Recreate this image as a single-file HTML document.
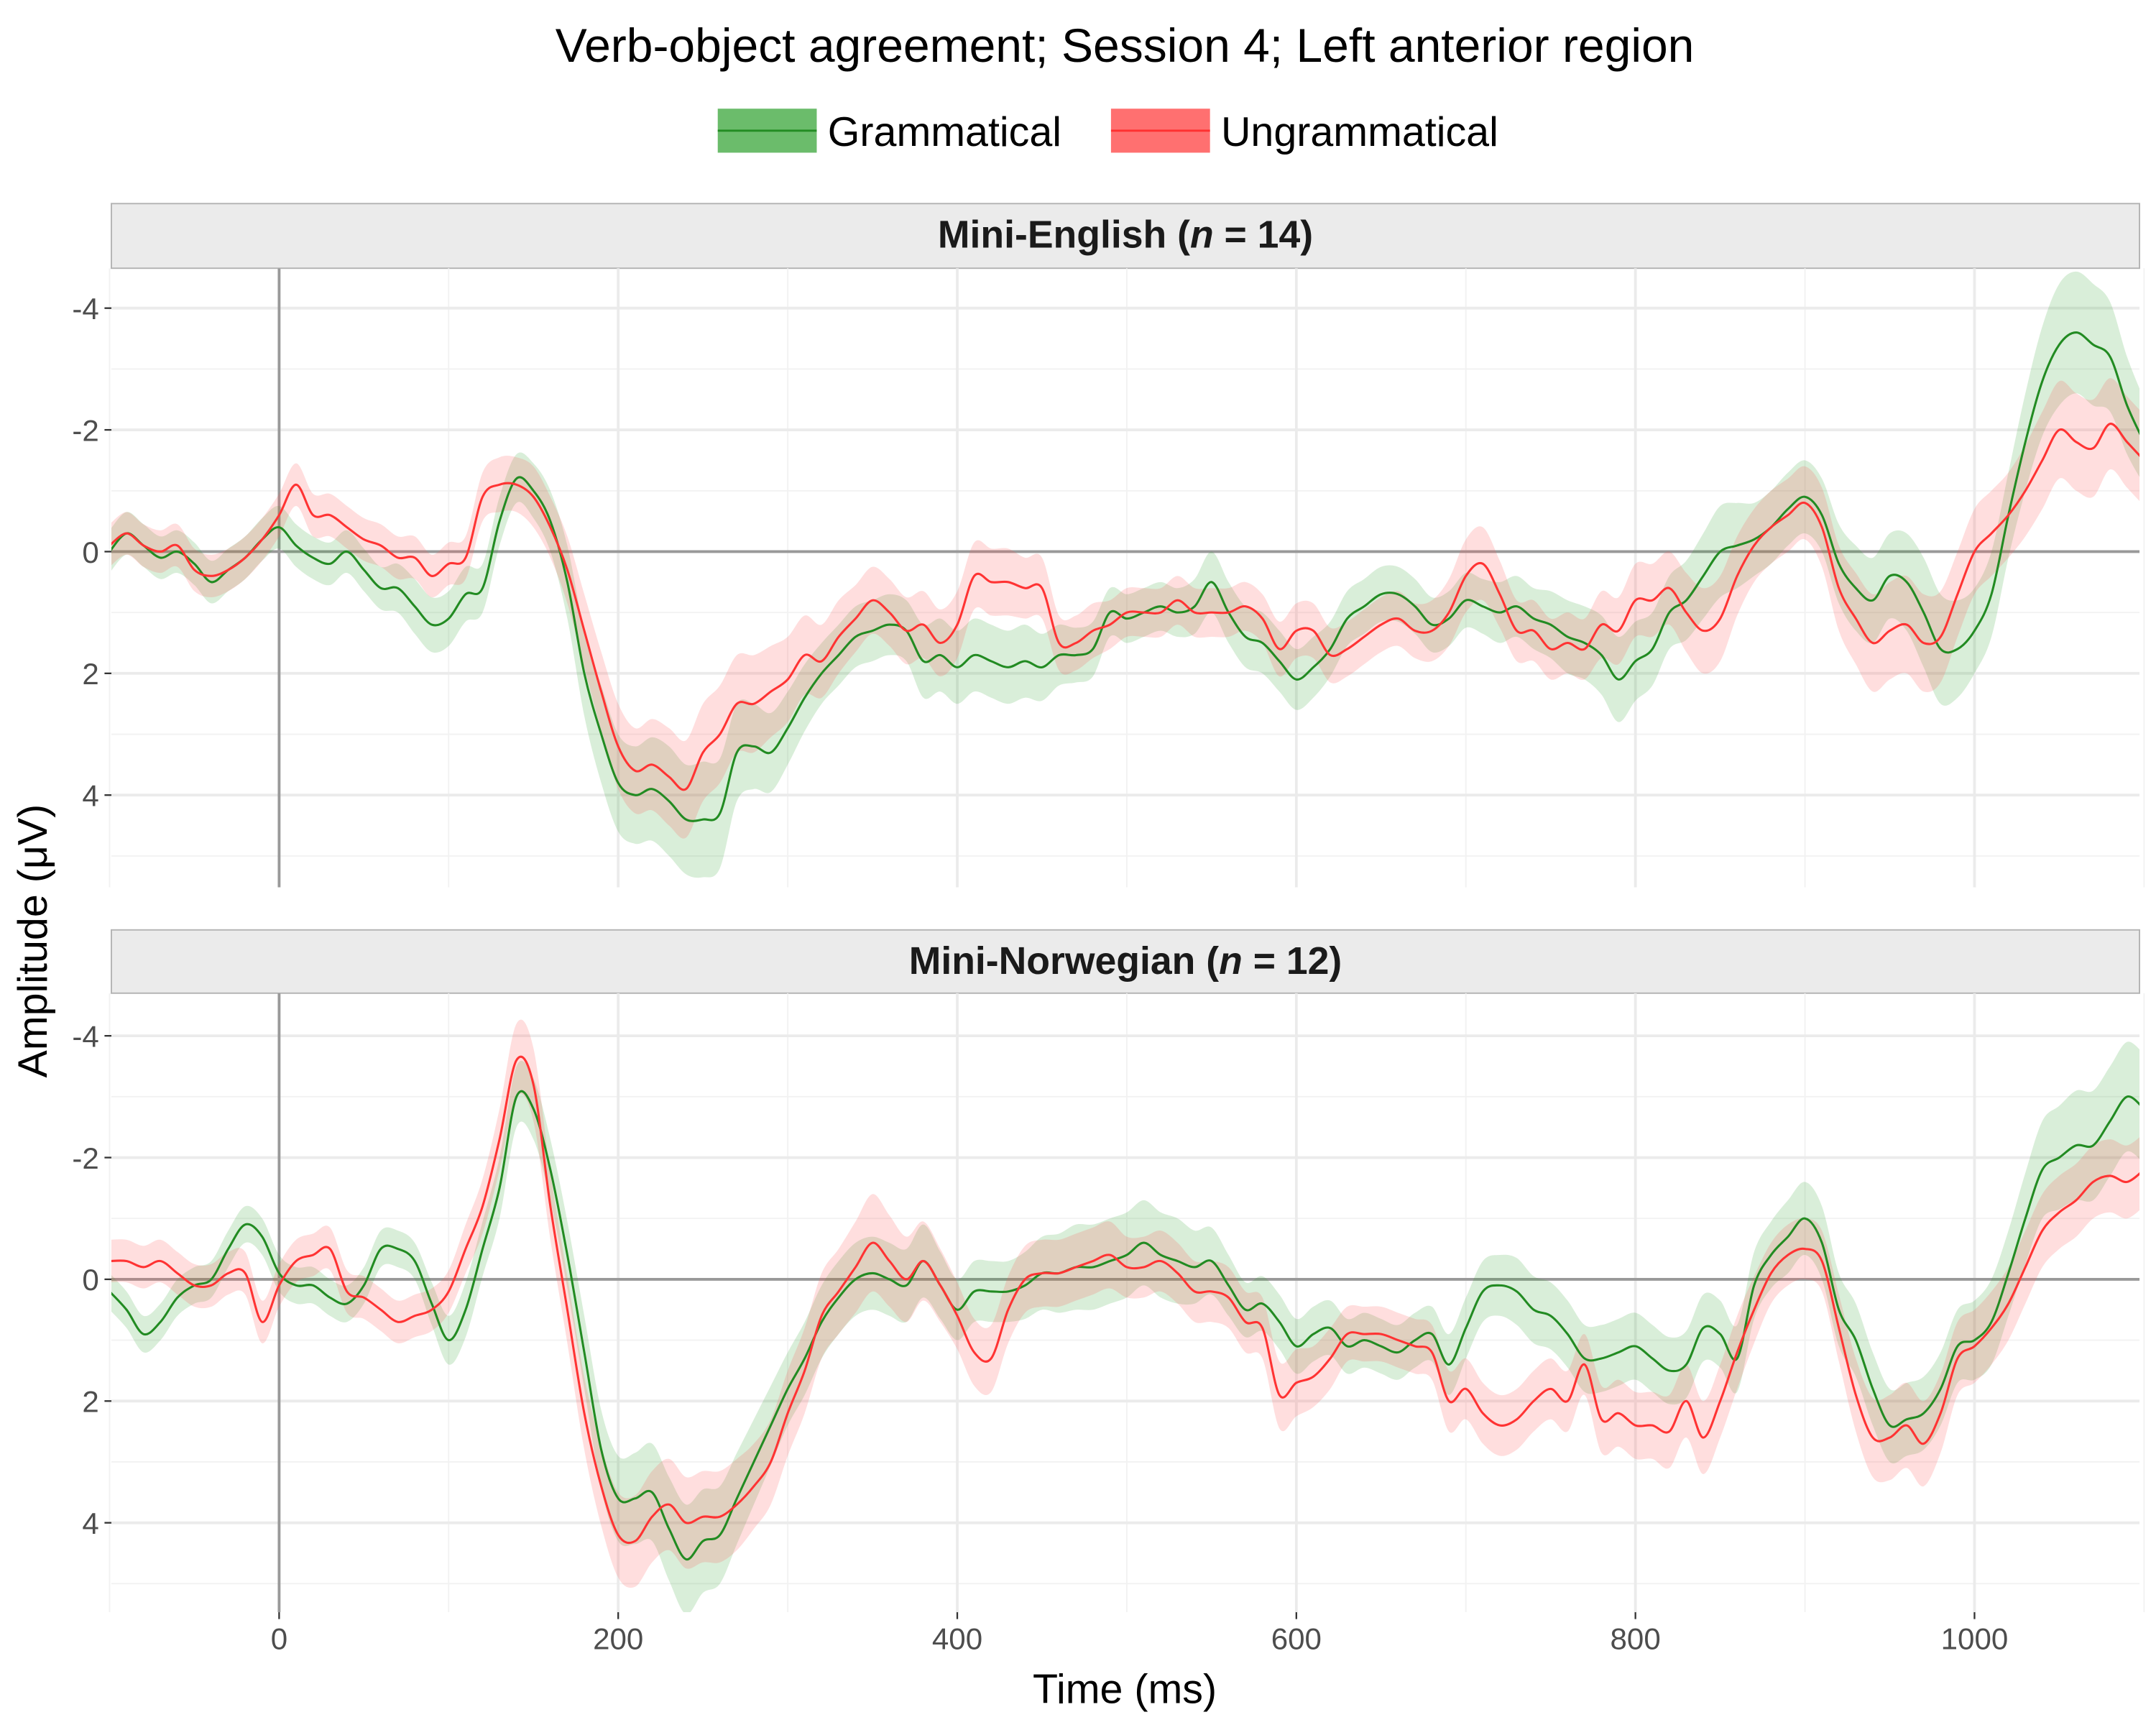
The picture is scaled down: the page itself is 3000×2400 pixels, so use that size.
<!DOCTYPE html>
<html><head><meta charset="utf-8"><style>html,body{margin:0;padding:0;background:#fff}svg{display:block}</style></head>
<body>
<svg id="chart" width="3000" height="2400" viewBox="0 0 1568 1254" preserveAspectRatio="none" xmlns="http://www.w3.org/2000/svg" font-family="Liberation Sans, Arial, sans-serif">
<rect width="1568" height="1254" fill="#fff"/>
<text x="818" y="45" font-size="34.5" text-anchor="middle" fill="#000">Verb-object agreement; Session 4; Left anterior region</text>
<g>
<g><rect x="522" y="79" width="72" height="32" fill="#2ca02c" fill-opacity="0.7"/><line x1="522" y1="95" x2="594" y2="95" stroke="#228b22" stroke-width="1.5"/><text x="602" y="106" font-size="30">Grammatical</text></g>
<g><rect x="808" y="79" width="72" height="32" fill="#ff4040" fill-opacity="0.75"/><line x1="808" y1="95" x2="880" y2="95" stroke="#ff3030" stroke-width="1.5"/><text x="888" y="106" font-size="30">Ungrammatical</text></g>
</g>
<text transform="translate(34,684) rotate(-90)" font-size="30" text-anchor="middle">Amplitude (μV)</text>
<text x="818" y="1238" font-size="30" text-anchor="middle">Time (ms)</text>
<g id="panels"></g>
</svg>
<script>
const times = [];
for (let t = -100; t <= 1100; t += 10) times.push(t);
const xTicks = [0, 200, 400, 600, 800, 1000];
const yTicks = [-4, -2, 0, 2, 4];
const panelTitles = ["Mini-English", "Mini-Norwegian"];
const panelN = [14, 12];
const eng_gram = [0,-0.3,-0.1,0.1,0,0.2,0.5,0.3,0.1,-0.2,-0.4,-0.1,0.1,0.2,0,0.3,0.6,0.6,0.9,1.2,1.1,0.7,0.6,-0.5,-1.2,-1.0,-0.5,0.5,2.0,3.0,3.8,4.0,3.9,4.1,4.4,4.4,4.3,3.3,3.2,3.3,2.9,2.4,2.0,1.7,1.4,1.3,1.2,1.3,1.8,1.7,1.9,1.7,1.8,1.9,1.8,1.9,1.7,1.7,1.6,1.0,1.1,1.0,0.9,1.0,0.9,0.5,1.0,1.4,1.5,1.8,2.1,1.9,1.6,1.1,0.9,0.7,0.7,0.9,1.2,1.1,0.8,0.9,1.0,0.9,1.1,1.2,1.4,1.5,1.7,2.1,1.8,1.6,1.0,0.8,0.4,0,-0.1,-0.2,-0.4,-0.7,-0.9,-0.6,0.2,0.6,0.8,0.4,0.5,1.0,1.6,1.6,1.3,0.7,-0.6,-1.8,-2.8,-3.4,-3.6,-3.4,-3.2,-2.4,-1.8];
const eng_ungram = [-0.1,-0.3,-0.1,0,-0.1,0.3,0.4,0.3,0.1,-0.2,-0.6,-1.1,-0.6,-0.6,-0.4,-0.2,-0.1,0.1,0.1,0.4,0.2,0.1,-0.9,-1.1,-1.1,-0.9,-0.4,0.3,1.3,2.3,3.2,3.6,3.5,3.7,3.9,3.3,3.0,2.5,2.5,2.3,2.1,1.7,1.8,1.4,1.1,0.8,1.0,1.3,1.2,1.5,1.2,0.4,0.5,0.5,0.6,0.6,1.5,1.5,1.3,1.2,1.0,1.0,1.0,0.8,1.0,1.0,1.0,0.9,1.1,1.6,1.3,1.3,1.7,1.6,1.4,1.2,1.1,1.3,1.3,1.0,0.4,0.2,0.7,1.3,1.3,1.6,1.5,1.6,1.2,1.3,0.8,0.8,0.6,1.0,1.3,1.1,0.4,-0.1,-0.4,-0.6,-0.8,-0.4,0.6,1.1,1.5,1.3,1.2,1.5,1.4,0.7,0,-0.3,-0.6,-1.0,-1.5,-2.0,-1.8,-1.7,-2.1,-1.8,-1.5];
const nor_gram = [0.2,0.5,0.9,0.7,0.3,0.1,0,-0.5,-0.9,-0.7,-0.1,0.1,0.1,0.3,0.4,0.1,-0.5,-0.5,-0.3,0.4,1.0,0.5,-0.5,-1.5,-3.0,-2.8,-1.8,-0.4,1.2,2.8,3.6,3.6,3.5,4.1,4.6,4.3,4.2,3.6,3.0,2.4,1.8,1.3,0.7,0.3,0,-0.1,0,0.1,-0.3,0.1,0.5,0.2,0.2,0.2,0.1,-0.1,-0.1,-0.2,-0.2,-0.3,-0.4,-0.6,-0.4,-0.3,-0.2,-0.3,0.1,0.5,0.4,0.7,1.1,0.9,0.8,1.1,1.0,1.1,1.2,1.0,0.9,1.4,0.8,0.2,0.1,0.2,0.5,0.6,0.9,1.3,1.3,1.2,1.1,1.3,1.5,1.4,0.8,0.9,1.3,0.1,-0.4,-0.7,-1.0,-0.6,0.5,1.0,1.8,2.4,2.3,2.2,1.8,1.1,1.0,0.7,-0.1,-1.0,-1.8,-2.0,-2.2,-2.2,-2.6,-3.0,-2.8];
const nor_ungram = [-0.3,-0.3,-0.2,-0.3,-0.1,0.1,0.1,-0.1,-0.1,0.7,0.1,-0.3,-0.4,-0.5,0.2,0.3,0.5,0.7,0.6,0.5,0.2,-0.5,-1.2,-2.3,-3.6,-3.2,-1.2,0.5,2.2,3.4,4.2,4.3,3.9,3.7,4.0,3.9,3.9,3.7,3.4,3.0,2.2,1.5,0.6,0.2,-0.2,-0.6,-0.3,0,-0.3,0.1,0.6,1.2,1.3,0.5,0,-0.1,-0.1,-0.2,-0.3,-0.4,-0.2,-0.2,-0.3,-0.1,0.2,0.2,0.3,0.7,0.8,1.9,1.7,1.6,1.3,0.9,0.9,0.9,1.0,1.1,1.2,2.0,1.8,2.2,2.4,2.3,2.0,1.8,2.0,1.4,2.3,2.2,2.4,2.4,2.5,2.0,2.6,2.0,1.2,0.5,-0.1,-0.4,-0.5,-0.3,0.8,1.9,2.6,2.6,2.4,2.7,2.2,1.3,1.1,0.8,0.4,-0.2,-0.8,-1.1,-1.3,-1.6,-1.7,-1.6,-1.8];
const eng_gram_se = [0.35,0.35,0.35,0.35,0.35,0.35,0.35,0.35,0.35,0.35,0.35,0.35,0.35,0.35,0.35,0.35,0.35,0.4,0.45,0.45,0.45,0.45,0.4,0.4,0.4,0.45,0.5,0.6,0.7,0.8,0.8,0.8,0.85,0.9,0.9,0.95,0.9,0.8,0.7,0.65,0.6,0.55,0.5,0.5,0.5,0.5,0.5,0.5,0.6,0.6,0.6,0.6,0.6,0.6,0.6,0.55,0.5,0.45,0.45,0.4,0.4,0.4,0.4,0.4,0.45,0.5,0.5,0.5,0.5,0.5,0.5,0.5,0.45,0.45,0.45,0.45,0.45,0.45,0.45,0.45,0.45,0.45,0.5,0.5,0.5,0.55,0.6,0.6,0.65,0.7,0.65,0.6,0.6,0.65,0.7,0.75,0.7,0.6,0.6,0.6,0.6,0.6,0.65,0.7,0.7,0.7,0.8,0.9,0.9,0.8,0.7,0.7,0.7,0.8,0.9,1.0,1.0,1.0,0.9,0.8,0.7];
const eng_ungram_se = [0.35,0.35,0.35,0.35,0.35,0.35,0.35,0.35,0.35,0.35,0.35,0.35,0.35,0.35,0.35,0.35,0.35,0.35,0.35,0.35,0.35,0.35,0.4,0.45,0.45,0.5,0.5,0.55,0.6,0.65,0.7,0.7,0.75,0.8,0.8,0.8,0.8,0.8,0.8,0.75,0.7,0.65,0.6,0.6,0.55,0.55,0.55,0.55,0.55,0.55,0.55,0.55,0.55,0.55,0.5,0.5,0.45,0.45,0.45,0.4,0.4,0.4,0.4,0.4,0.4,0.4,0.4,0.4,0.4,0.45,0.45,0.45,0.45,0.45,0.45,0.45,0.45,0.45,0.5,0.55,0.6,0.6,0.55,0.5,0.5,0.5,0.5,0.5,0.55,0.55,0.6,0.6,0.6,0.65,0.7,0.7,0.65,0.6,0.6,0.6,0.6,0.65,0.7,0.75,0.8,0.8,0.8,0.8,0.75,0.7,0.7,0.7,0.7,0.75,0.8,0.8,0.8,0.8,0.75,0.75,0.75];
const nor_gram_se = [0.3,0.3,0.3,0.3,0.3,0.3,0.3,0.3,0.3,0.3,0.3,0.3,0.3,0.3,0.3,0.3,0.3,0.3,0.3,0.35,0.4,0.45,0.45,0.5,0.5,0.5,0.5,0.55,0.6,0.65,0.7,0.75,0.8,0.85,0.9,0.85,0.8,0.75,0.7,0.65,0.6,0.6,0.6,0.6,0.6,0.6,0.6,0.6,0.6,0.55,0.5,0.5,0.5,0.5,0.55,0.6,0.65,0.7,0.7,0.7,0.7,0.7,0.7,0.7,0.6,0.55,0.5,0.45,0.45,0.45,0.45,0.45,0.45,0.45,0.45,0.45,0.45,0.45,0.45,0.5,0.5,0.5,0.5,0.55,0.55,0.55,0.55,0.55,0.55,0.55,0.55,0.55,0.55,0.55,0.55,0.55,0.55,0.55,0.55,0.6,0.6,0.6,0.6,0.6,0.6,0.6,0.6,0.6,0.6,0.6,0.65,0.7,0.7,0.75,0.8,0.85,0.9,0.9,0.9,0.9,0.9];
const nor_ungram_se = [0.35,0.35,0.35,0.35,0.35,0.35,0.35,0.35,0.35,0.35,0.35,0.35,0.35,0.35,0.35,0.35,0.35,0.35,0.35,0.35,0.35,0.4,0.45,0.5,0.6,0.6,0.55,0.55,0.6,0.65,0.7,0.75,0.75,0.75,0.75,0.75,0.75,0.75,0.7,0.7,0.7,0.7,0.7,0.7,0.75,0.8,0.75,0.7,0.65,0.6,0.55,0.55,0.55,0.55,0.55,0.55,0.55,0.55,0.55,0.55,0.5,0.5,0.5,0.5,0.5,0.5,0.5,0.5,0.5,0.55,0.55,0.5,0.5,0.45,0.45,0.45,0.45,0.45,0.45,0.5,0.5,0.5,0.5,0.5,0.5,0.5,0.5,0.5,0.55,0.55,0.55,0.55,0.6,0.6,0.6,0.6,0.6,0.55,0.5,0.5,0.5,0.5,0.55,0.6,0.65,0.7,0.7,0.7,0.65,0.6,0.6,0.6,0.6,0.6,0.6,0.6,0.6,0.6,0.6,0.6,0.6];

const X0 = 81, X1 = 1556;
const xScale = t => 203 + (t) * 1.233;
const panels = [
  {strip: 148, top: 195, bottom: 645, zero: 401, g: eng_gram, u: eng_ungram, gs: eng_gram_se, us: eng_ungram_se},
  {strip: 676, top: 722, bottom: 1172, zero: 930, g: nor_gram, u: nor_ungram, gs: nor_gram_se, us: nor_ungram_se}
];
const NS = "http://www.w3.org/2000/svg";
const root = document.getElementById('panels');
function mk(tag, attrs, parent) {
  const e = document.createElementNS(NS, tag);
  for (const k in attrs) e.setAttribute(k, attrs[k]);
  parent.appendChild(e);
  return e;
}
function smooth(pts) {
  let d = "M" + pts[0][0].toFixed(2) + "," + pts[0][1].toFixed(2);
  for (let i = 0; i < pts.length - 1; i++) {
    const p0 = pts[Math.max(0, i - 1)], p1 = pts[i], p2 = pts[i + 1], p3 = pts[Math.min(pts.length - 1, i + 2)];
    const c1x = p1[0] + (p2[0] - p0[0]) / 6, c1y = p1[1] + (p2[1] - p0[1]) / 6;
    const c2x = p2[0] - (p3[0] - p1[0]) / 6, c2y = p2[1] - (p3[1] - p1[1]) / 6;
    d += " C" + c1x.toFixed(2) + "," + c1y.toFixed(2) + " " + c2x.toFixed(2) + "," + c2y.toFixed(2) + " " + p2[0].toFixed(2) + "," + p2[1].toFixed(2);
  }
  return d;
}
panels.forEach((p, pi) => {
  const yScale = v => p.zero + v * 44.25;
  const g = mk('g', {}, root);
  
  
  const clipId = 'clip' + pi;
  const cp = mk('clipPath', {id: clipId}, g);
  mk('rect', {x: X0, y: p.top, width: X1 - X0, height: p.bottom - p.top}, cp);
  const st = mk('rect', {x: X0, y: p.strip, width: X1 - X0, height: p.top - p.strip, fill: '#ebebeb', stroke: '#b3b3b3', 'stroke-width': 1}, g);
  
  
  const tx = mk('text', {x: (X0 + X1) / 2, y: p.strip + 32, 'font-size': 28, 'font-weight': 'bold', 'text-anchor': 'middle', fill: '#1a1a1a'}, g);
  
  
  tx.textContent = panelTitles[pi] + " (";
  const ts = mk('tspan', {'font-style': 'italic'}, tx); ts.textContent = 'n';
  const ts2 = mk('tspan', {}, tx); ts2.textContent = " = " + panelN[pi] + ")";
  for (let t = -100; t <= 1100; t += 200) {
    mk('line', {x1: xScale(t), x2: xScale(t), y1: p.top, y2: p.bottom, stroke: '#f2f2f2', 'stroke-width': 1}, g);
  }
  for (let v = -5; v <= 5; v += 2) {
    const y = yScale(v);
    if (y >= p.top && y <= p.bottom) mk('line', {x1: X0, x2: X1, y1: y, y2: y, stroke: '#f2f2f2', 'stroke-width': 1}, g);
  }
  xTicks.forEach(t => mk('line', {x1: xScale(t), x2: xScale(t), y1: p.top, y2: p.bottom, stroke: '#ebebeb', 'stroke-width': 2}, g));
  yTicks.forEach(v => {
    mk('line', {x1: X0, x2: X1, y1: yScale(v), y2: yScale(v), stroke: '#ebebeb', 'stroke-width': 2}, g);
    mk('line', {x1: X0 - 5, x2: X0, y1: yScale(v), y2: yScale(v), stroke: '#333', 'stroke-width': 1.2}, g);
    const lab = mk('text', {x: X0 - 9, y: yScale(v) + 8, 'font-size': 22, 'text-anchor': 'end', fill: '#4d4d4d'}, g);
    
    
    lab.textContent = String(v);
  });
  mk('line', {x1: X0, x2: X1, y1: yScale(0), y2: yScale(0), stroke: '#999', 'stroke-width': 2}, g);
  mk('line', {x1: xScale(0), x2: xScale(0), y1: p.top, y2: p.bottom, stroke: '#999', 'stroke-width': 2}, g);
  const series = [[p.g, p.gs, '#2ca02c', '#228b22', 0.18, 'grammatical'], [p.u, p.us, '#ff5a5a', '#ff3333', 0.2, 'ungrammatical']];
  series.forEach(s => {
    const upper = times.map((t, i) => [xScale(t), yScale(s[0][i] - s[1][i])]);
    const lower = times.map((t, i) => [xScale(t), yScale(s[0][i] + s[1][i])]).reverse();
    const d = smooth(upper) + " L" + smooth(lower).slice(1) + " Z";
    const band = mk('path', {d: d, fill: s[2], 'fill-opacity': s[4], stroke: 'none', 'clip-path': 'url(#' + clipId + ')'}, g);
    
    
  });
  series.forEach(s => {
    const pts = times.map((t, i) => [xScale(t), yScale(s[0][i])]);
    const ln = mk('path', {d: smooth(pts), fill: 'none', stroke: s[3], 'stroke-width': 1.6, 'clip-path': 'url(#' + clipId + ')'}, g);
    
    
  });
});
const ax = mk('g', {}, root);


xTicks.forEach(t => {
  mk('line', {x1: xScale(t), x2: xScale(t), y1: 1172, y2: 1177, stroke: '#333', 'stroke-width': 1.2}, ax);
  const lab = mk('text', {x: xScale(t), y: 1199, 'font-size': 22, 'text-anchor': 'middle', fill: '#4d4d4d'}, ax);
  
  
  lab.textContent = String(t);
});
</script>
</body></html>
